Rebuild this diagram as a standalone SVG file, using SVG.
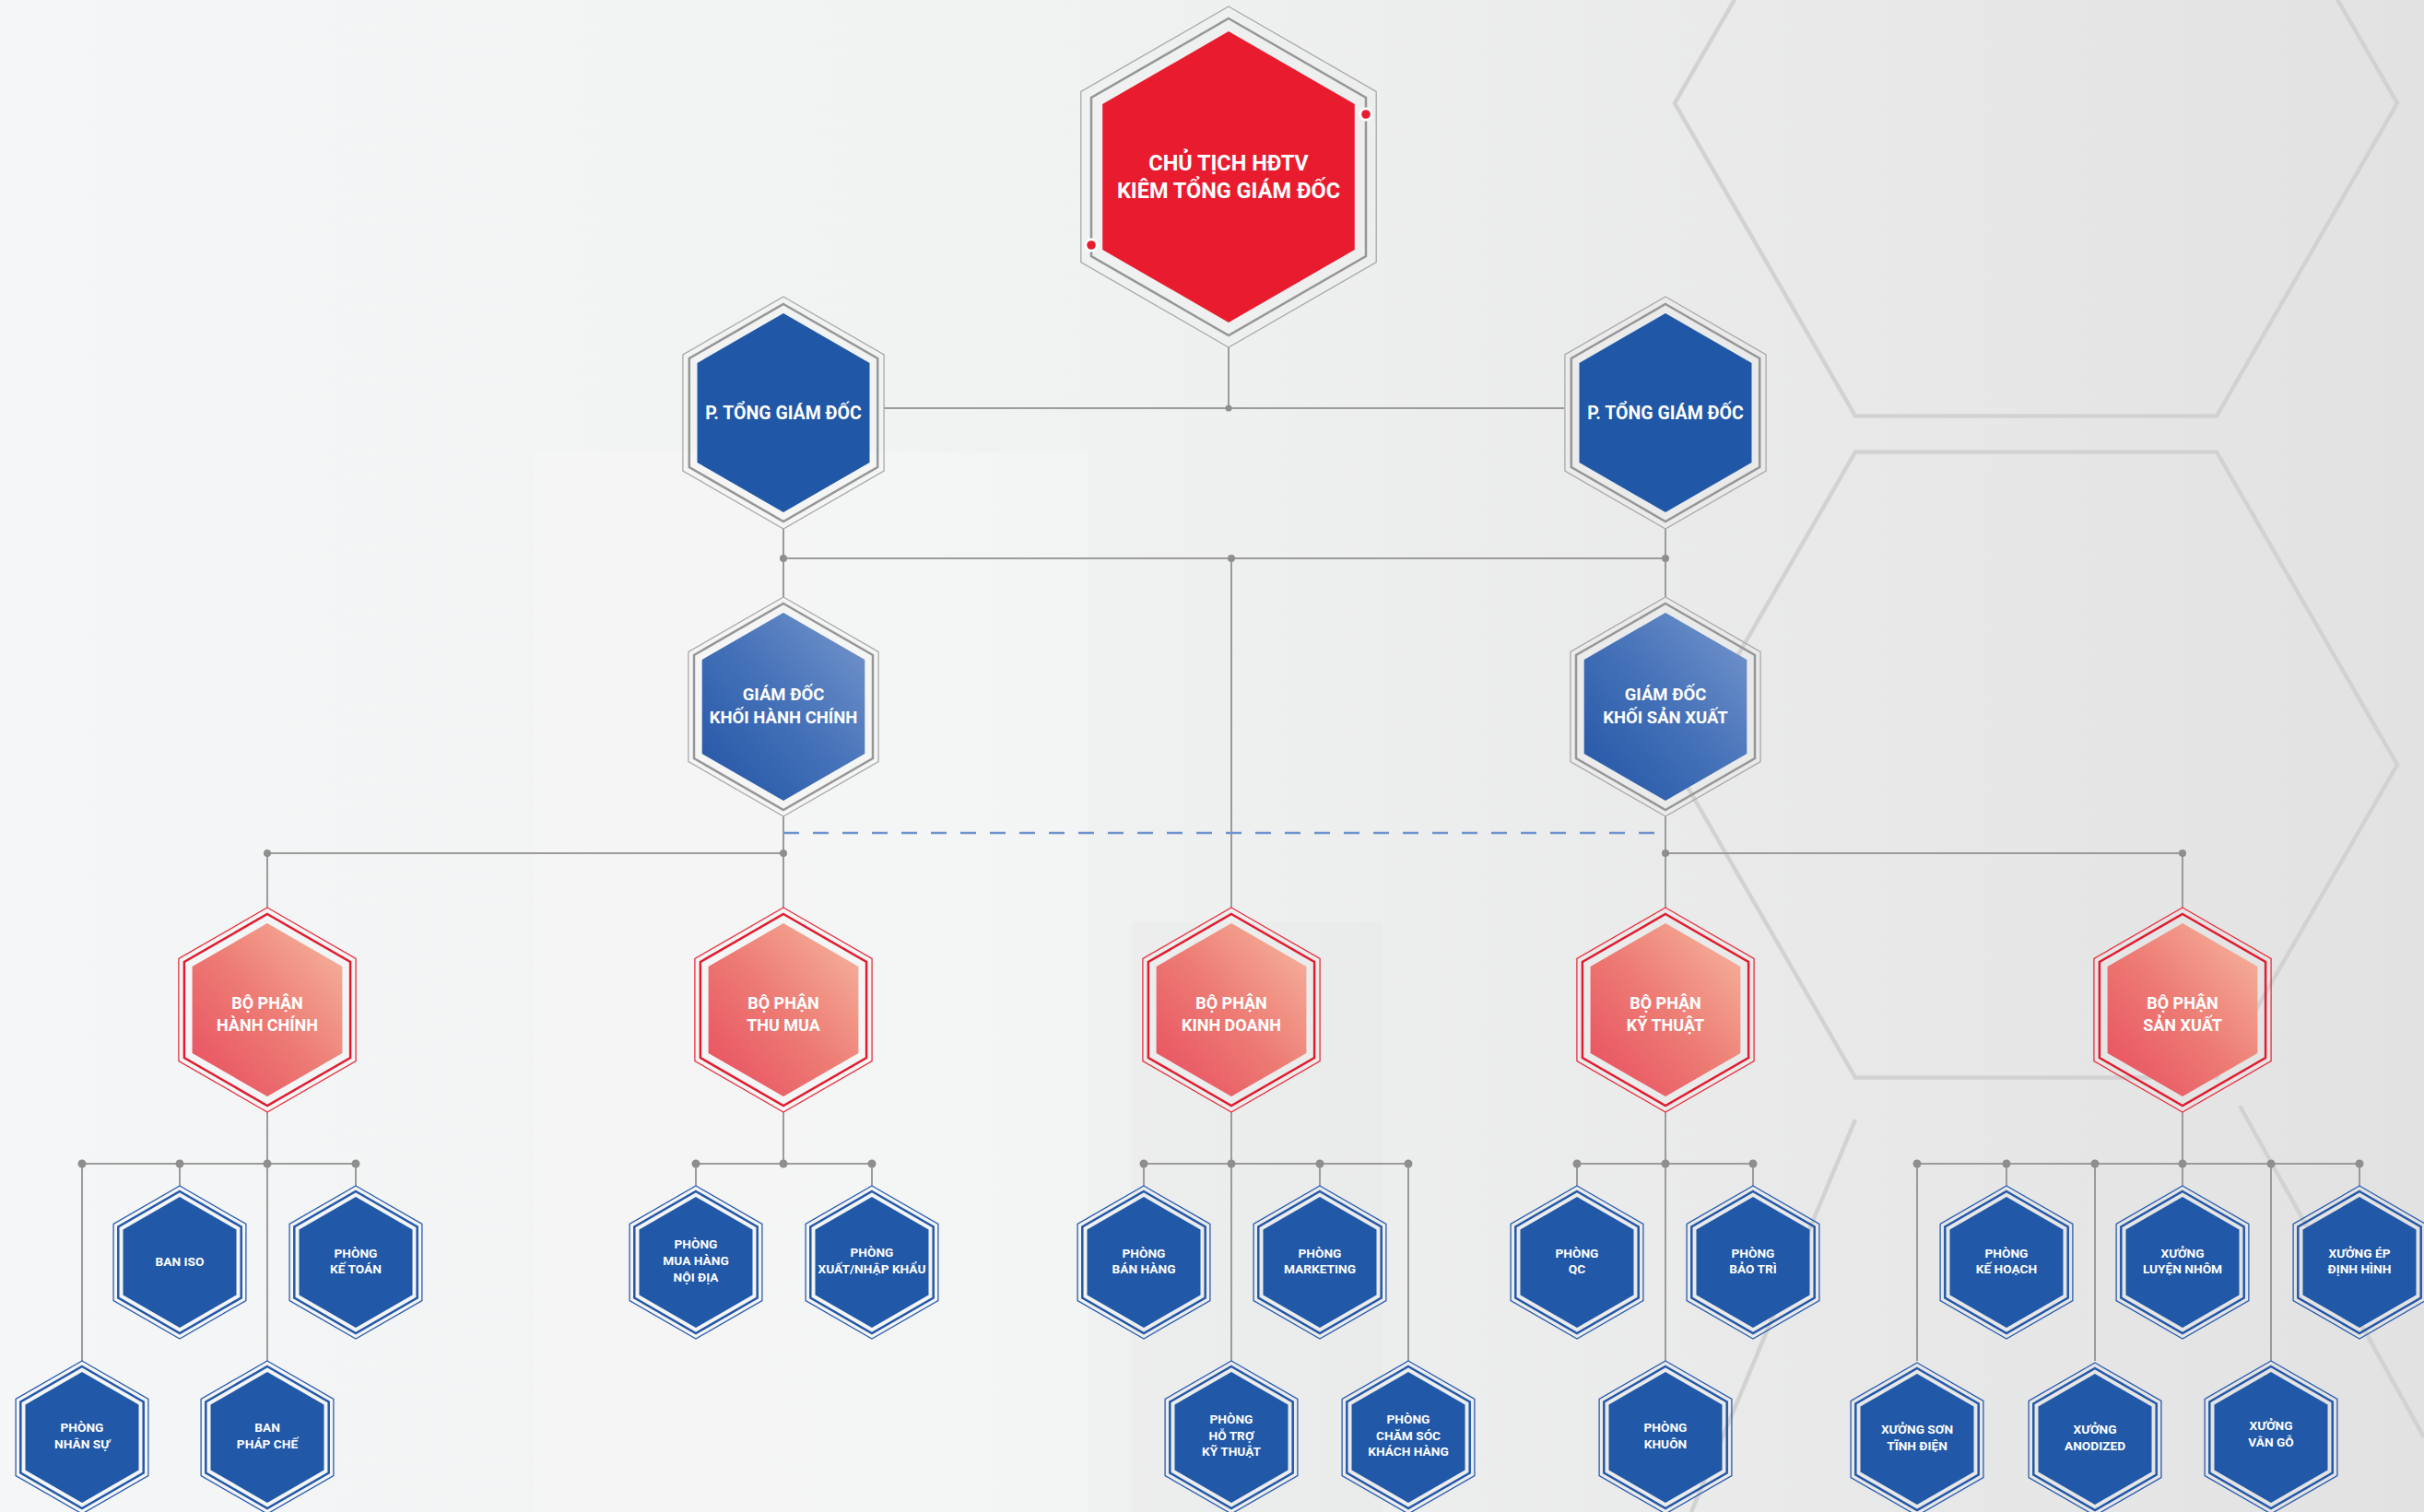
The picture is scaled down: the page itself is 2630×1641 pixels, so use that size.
<svg xmlns="http://www.w3.org/2000/svg" xmlns:xlink="http://www.w3.org/1999/xlink" width="2630" height="1641" viewBox="0 0 2630 1641">
<style>
.conn{stroke:#9b9b9b;stroke-width:2;fill:none}
.dot{fill:#8e8e8e}
.dash{stroke:#6f93cf;stroke-width:2.5;stroke-dasharray:17 15;fill:none}
.ringG1{fill:none;stroke:#a9a9a9;stroke-width:1.3}
.ringG2{fill:none;stroke:#969696;stroke-width:2.5}
.ringR1{fill:none;stroke:#e8313f;stroke-width:1.3}
.ringR2{fill:none;stroke:#e31b2e;stroke-width:2.5}
.ringB1{fill:none;stroke:#2a5cae;stroke-width:1.3}
.ringB2{fill:none;stroke:#2458a8;stroke-width:2.5}
.t{font-family:Roboto,"Noto Sans","Liberation Sans",sans-serif;font-weight:700;fill:#ffffff;text-anchor:middle}
.t22{font-size:23.5px}
.t18{font-size:19.5px}
.t17{font-size:18.5px}
.t16{font-size:18px}
.t13{font-size:13.7px}
.bgl{fill:none;stroke:#d2d2d2;stroke-width:4.5}
</style>
<defs>
<linearGradient id="bg" x1="0" y1="0" x2="1" y2="0">
<stop offset="0" stop-color="#f5f6f7"/>
<stop offset="0.45" stop-color="#f0f1f1"/>
<stop offset="1" stop-color="#e2e2e2"/>
</linearGradient>
<linearGradient id="gdGrad" x1="1" y1="0" x2="0" y2="1">
<stop offset="0" stop-color="#7797cd"/>
<stop offset="0.5" stop-color="#4471b8"/>
<stop offset="1" stop-color="#2254a5"/>
</linearGradient>
<linearGradient id="bpGrad" x1="1" y1="0" x2="0" y2="1">
<stop offset="0" stop-color="#f7b9a1"/>
<stop offset="0.5" stop-color="#ed7c74"/>
<stop offset="1" stop-color="#e84c5f"/>
</linearGradient>
<g id="hexTop">
<polygon class="ringG1" points="0,-185 160.2,-92.5 160.2,92.5 0,185 -160.2,92.5 -160.2,-92.5"/>
<polygon class="ringG2" points="0,-172 149,-86 149,86 0,172 -149,86 -149,-86"/>
<polygon fill="#e81c2e" points="0,-158 136.8,-79 136.8,79 0,158 -136.8,79 -136.8,-79"/>
</g>
<g id="hexTGD">
<polygon class="ringG1" points="0,-126 109.1,-63 109.1,63 0,126 -109.1,63 -109.1,-63"/>
<polygon class="ringG2" points="0,-118 102.2,-59 102.2,59 0,118 -102.2,59 -102.2,-59"/>
<polygon fill="#2058a7" points="0,-108 93.5,-54 93.5,54 0,108 -93.5,54 -93.5,-54"/>
</g>
<g id="hexGD">
<polygon class="ringG1" points="0,-119 103.1,-59.5 103.1,59.5 0,119 -103.1,59.5 -103.1,-59.5"/>
<polygon class="ringG2" points="0,-112 97,-56 97,56 0,112 -97,56 -97,-56"/>
<polygon fill="url(#gdGrad)" points="0,-102 88.3,-51 88.3,51 0,102 -88.3,51 -88.3,-51"/>
</g>
<g id="hexBP">
<polygon class="ringR1" points="0,-111 96.1,-55.5 96.1,55.5 0,111 -96.1,55.5 -96.1,-55.5"/>
<polygon class="ringR2" points="0,-104 90.1,-52 90.1,52 0,104 -90.1,52 -90.1,-52"/>
<polygon fill="url(#bpGrad)" points="0,-94 81.4,-47 81.4,47 0,94 -81.4,47 -81.4,-47"/>
</g>
<g id="hexS">
<polygon class="ringB1" points="0,-83 71.9,-41.5 71.9,41.5 0,83 -71.9,41.5 -71.9,-41.5"/>
<polygon class="ringB2" points="0,-77 66.7,-38.5 66.7,38.5 0,77 -66.7,38.5 -66.7,-38.5"/>
<polygon fill="#2158a7" points="0,-71 61.5,-35.5 61.5,35.5 0,71 -61.5,35.5 -61.5,-35.5"/>
</g>
</defs>

<g id="background">
<rect x="0" y="0" width="2630" height="1641" fill="url(#bg)"/>
<polygon fill="#ffffff" opacity="0.22" points="580,490 1180,490 1180,1641 580,1641"/>
<polygon fill="#e4e4e4" opacity="0.25" points="1228,1000 1500,1000 1500,1641 1228,1641"/>
<polygon class="bgl" points="2601,112 2405,451.5 2013,451.5 1817,112 2013,-227.5 2405,-227.5"/>
<polygon class="bgl" points="2601,830 2405,1169.5 2013,1169.5 1817,830 2013,490.5 2405,490.5"/>
<line class="bgl" x1="2013" y1="1215" x2="1835" y2="1641"/>
<line class="bgl" x1="2430" y1="1200" x2="2630" y2="1560"/>
</g>

<g id="connectors">
<path class="conn" d="M1333 377V443M959 443H1697"/>
<path class="conn" d="M850 574V648M1807 574V648M850 606H1807M1336 606V985"/>
<path class="conn" d="M850 886V985M1807 886V985M290 926H850M1807 926H2368M290 926V985M2368 926V985"/>
<path class="dash" d="M850 904H1807"/>
<path class="conn" d="M290 1207V1477M89 1263H386M89 1263V1477M195 1263V1287M386 1263V1287"/>
<path class="conn" d="M850 1207V1263M755 1263H946M755 1263V1287M946 1263V1287"/>
<path class="conn" d="M1336 1207V1477M1241 1263H1528M1241 1263V1287M1432 1263V1287M1528 1263V1477"/>
<path class="conn" d="M1807 1207V1477M1711 1263H1902M1711 1263V1287M1902 1263V1287"/>
<path class="conn" d="M2368 1207V1287M2080 1263H2560M2080 1263V1477M2177 1263V1287M2273 1263V1477M2464 1263V1477M2560 1263V1287"/>
<circle class="dot" cx="1333" cy="443" r="3.5"/>
<circle class="dot" cx="850" cy="606" r="4"/><circle class="dot" cx="1336" cy="606" r="4"/><circle class="dot" cx="1807" cy="606" r="4"/>
<circle class="dot" cx="290" cy="926" r="4"/><circle class="dot" cx="850" cy="926" r="4"/><circle class="dot" cx="1807" cy="926" r="4"/><circle class="dot" cx="2368" cy="926" r="4"/>
<circle class="dot" cx="89" cy="1263" r="4.5"/><circle class="dot" cx="195" cy="1263" r="4.5"/><circle class="dot" cx="290" cy="1263" r="4.5"/><circle class="dot" cx="386" cy="1263" r="4.5"/>
<circle class="dot" cx="755" cy="1263" r="4.5"/><circle class="dot" cx="850" cy="1263" r="4.5"/><circle class="dot" cx="946" cy="1263" r="4.5"/>
<circle class="dot" cx="1241" cy="1263" r="4.5"/><circle class="dot" cx="1336" cy="1263" r="4.5"/><circle class="dot" cx="1432" cy="1263" r="4.5"/><circle class="dot" cx="1528" cy="1263" r="4.5"/>
<circle class="dot" cx="1711" cy="1263" r="4.5"/><circle class="dot" cx="1807" cy="1263" r="4.5"/><circle class="dot" cx="1902" cy="1263" r="4.5"/>
<circle class="dot" cx="2080" cy="1263" r="4.5"/><circle class="dot" cx="2177" cy="1263" r="4.5"/><circle class="dot" cx="2273" cy="1263" r="4.5"/><circle class="dot" cx="2368" cy="1263" r="4.5"/><circle class="dot" cx="2464" cy="1263" r="4.5"/><circle class="dot" cx="2560" cy="1263" r="4.5"/>
</g>

<g id="node-chu-tich">
<use href="#hexTop" x="1333" y="192"/>
<circle cx="1482" cy="124" r="7.5" fill="#ffffff"/><circle cx="1482" cy="124" r="4.8" fill="#e81c2e"/>
<circle cx="1184" cy="266" r="7.5" fill="#ffffff"/><circle cx="1184" cy="266" r="4.8" fill="#e81c2e"/>
<text class="t t22" x="1333" y="185">CHỦ TỊCH HĐTV</text>
<text class="t t22" x="1333" y="215">KIÊM TỔNG GIÁM ĐỐC</text>
</g>
<g id="node-ptgd-1"><use href="#hexTGD" x="850" y="448"/><text class="t t18" x="850" y="455">P. TỔNG GIÁM ĐỐC</text></g>
<g id="node-ptgd-2"><use href="#hexTGD" x="1807" y="448"/><text class="t t18" x="1807" y="455">P. TỔNG GIÁM ĐỐC</text></g>
<g id="node-gd-hanh-chinh"><use href="#hexGD" x="850" y="767"/><text class="t t17" x="850" y="760">GIÁM ĐỐC</text><text class="t t17" x="850" y="785">KHỐI HÀNH CHÍNH</text></g>
<g id="node-gd-san-xuat"><use href="#hexGD" x="1807" y="767"/><text class="t t17" x="1807" y="760">GIÁM ĐỐC</text><text class="t t17" x="1807" y="785">KHỐI SẢN XUẤT</text></g>

<g id="node-bp-hanh-chinh"><use href="#hexBP" x="290" y="1096"/><text class="t t16" x="290" y="1095">BỘ PHẬN</text><text class="t t16" x="290" y="1119">HÀNH CHÍNH</text></g>
<g id="node-bp-thu-mua"><use href="#hexBP" x="850" y="1096"/><text class="t t16" x="850" y="1095">BỘ PHẬN</text><text class="t t16" x="850" y="1119">THU MUA</text></g>
<g id="node-bp-kinh-doanh"><use href="#hexBP" x="1336" y="1096"/><text class="t t16" x="1336" y="1095">BỘ PHẬN</text><text class="t t16" x="1336" y="1119">KINH DOANH</text></g>
<g id="node-bp-ky-thuat"><use href="#hexBP" x="1807" y="1096"/><text class="t t16" x="1807" y="1095">BỘ PHẬN</text><text class="t t16" x="1807" y="1119">KỸ THUẬT</text></g>
<g id="node-bp-san-xuat"><use href="#hexBP" x="2368" y="1096"/><text class="t t16" x="2368" y="1095">BỘ PHẬN</text><text class="t t16" x="2368" y="1119">SẢN XUẤT</text></g>

<g id="node-nhan-su"><use href="#hexS" x="89" y="1560"/><text class="t t13" x="89" y="1554">PHÒNG</text><text class="t t13" x="89" y="1572">NHÂN SỰ</text></g>
<g id="node-ban-iso"><use href="#hexS" x="195" y="1370"/><text class="t t13" x="195" y="1374">BAN ISO</text></g>
<g id="node-phap-che"><use href="#hexS" x="290" y="1560"/><text class="t t13" x="290" y="1554">BAN</text><text class="t t13" x="290" y="1572">PHÁP CHẾ</text></g>
<g id="node-ke-toan"><use href="#hexS" x="386" y="1370"/><text class="t t13" x="386" y="1365">PHÒNG</text><text class="t t13" x="386" y="1382">KẾ TOÁN</text></g>

<g id="node-mua-hang"><use href="#hexS" x="755" y="1370"/><text class="t t13" x="755" y="1355">PHÒNG</text><text class="t t13" x="755" y="1373">MUA HÀNG</text><text class="t t13" x="755" y="1391">NỘI ĐỊA</text></g>
<g id="node-xnk"><use href="#hexS" x="946" y="1370"/><text class="t t13" x="946" y="1364">PHÒNG</text><text class="t t13" x="946" y="1382">XUẤT/NHẬP KHẨU</text></g>

<g id="node-ban-hang"><use href="#hexS" x="1241" y="1370"/><text class="t t13" x="1241" y="1365">PHÒNG</text><text class="t t13" x="1241" y="1382">BÁN HÀNG</text></g>
<g id="node-ho-tro"><use href="#hexS" x="1336" y="1560"/><text class="t t13" x="1336" y="1545">PHÒNG</text><text class="t t13" x="1336" y="1563">HỖ TRỢ</text><text class="t t13" x="1336" y="1580">KỸ THUẬT</text></g>
<g id="node-marketing"><use href="#hexS" x="1432" y="1370"/><text class="t t13" x="1432" y="1365">PHÒNG</text><text class="t t13" x="1432" y="1382">MARKETING</text></g>
<g id="node-cskh"><use href="#hexS" x="1528" y="1560"/><text class="t t13" x="1528" y="1545">PHÒNG</text><text class="t t13" x="1528" y="1563">CHĂM SÓC</text><text class="t t13" x="1528" y="1580">KHÁCH HÀNG</text></g>

<g id="node-qc"><use href="#hexS" x="1711" y="1370"/><text class="t t13" x="1711" y="1365">PHÒNG</text><text class="t t13" x="1711" y="1382">QC</text></g>
<g id="node-khuon"><use href="#hexS" x="1807" y="1560"/><text class="t t13" x="1807" y="1554">PHÒNG</text><text class="t t13" x="1807" y="1572">KHUÔN</text></g>
<g id="node-bao-tri"><use href="#hexS" x="1902" y="1370"/><text class="t t13" x="1902" y="1365">PHÒNG</text><text class="t t13" x="1902" y="1382">BẢO TRÌ</text></g>

<g id="node-son"><use href="#hexS" x="2080" y="1562"/><text class="t t13" x="2080" y="1556">XƯỞNG SƠN</text><text class="t t13" x="2080" y="1574">TĨNH ĐIỆN</text></g>
<g id="node-ke-hoach"><use href="#hexS" x="2177" y="1370"/><text class="t t13" x="2177" y="1365">PHÒNG</text><text class="t t13" x="2177" y="1382">KẾ HOẠCH</text></g>
<g id="node-anodized"><use href="#hexS" x="2273" y="1562"/><text class="t t13" x="2273" y="1556">XƯỞNG</text><text class="t t13" x="2273" y="1574">ANODIZED</text></g>
<g id="node-luyen-nhom"><use href="#hexS" x="2368" y="1370"/><text class="t t13" x="2368" y="1365">XƯỞNG</text><text class="t t13" x="2368" y="1382">LUYỆN NHÔM</text></g>
<g id="node-van-go"><use href="#hexS" x="2464" y="1560"/><text class="t t13" x="2464" y="1552">XƯỞNG</text><text class="t t13" x="2464" y="1570">VÂN GỖ</text></g>
<g id="node-ep"><use href="#hexS" x="2560" y="1370"/><text class="t t13" x="2560" y="1365">XƯỞNG ÉP</text><text class="t t13" x="2560" y="1382">ĐỊNH HÌNH</text></g>
</svg>
